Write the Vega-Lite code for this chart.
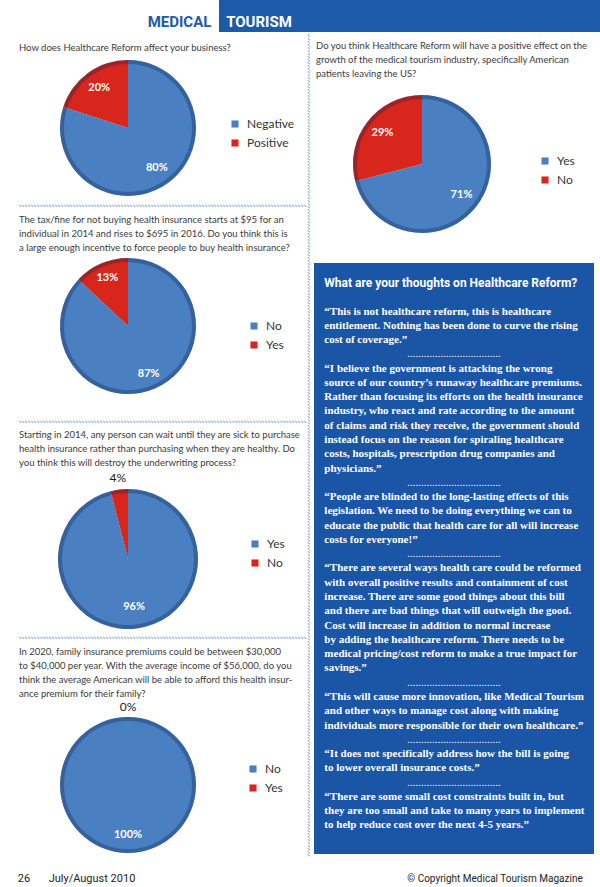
{
 "$schema": "https://vega.github.io/schema/vega-lite/v6.json",
 "padding": 0,
 "background": "white",
 "spacing": 1,
 "config": {
  "view": {"stroke": null},
  "title": {"font": "Lato", "fontSize": 9.5, "fontWeight": "normal", "color": "#3a3a3a", "anchor": "start", "frame": "group", "lineHeight": 14},
  "legend": {"labelFont": "Lato", "labelFontSize": 12, "labelColor": "#333333", "symbolType": "square", "symbolSize": 50, "symbolStrokeWidth": 0, "rowPadding": 7, "padding": 0, "labelOffset": 6},
  "arc": {"stroke": null}
 },
 "resolve": {"scale": {"color": "independent", "theta": "independent", "x": "independent", "y": "independent"}, "legend": {"color": "independent"}},
 "vconcat": [
  {
   "spacing": 0,
   "hconcat": [
    {"width": 145, "height": 32, "data": {"values": []}, "mark": "point"},
    {"width": 69, "height": 32, "data": {"values": [{"w": "MEDICAL"}]}, "mark": {"type": "text", "font": "Roboto", "fontSize": 15, "fontWeight": "bold", "color": "#1d5aa8", "dy": 6, "baseline": "middle", "align": "center"}, "encoding": {"text": {"field": "w"}}},
    {"width": 5, "height": 32, "data": {"values": []}, "mark": "point"},
    {"width": 80, "height": 32, "view": {"fill": "#1d5aa8"}, "data": {"values": [{"w": "TOURISM"}]}, "mark": {"type": "text", "font": "Roboto", "fontSize": 15, "fontWeight": "bold", "color": "white", "dy": 6, "baseline": "middle", "align": "center"}, "encoding": {"text": {"field": "w"}}},
    {"width": 301, "height": 32, "view": {"fill": "#1d5aa8"}, "data": {"values": []}, "mark": "point"}
   ]
  },
  {
   "spacing": 0,
   "resolve": {"scale": {"color": "independent", "theta": "independent", "x": "independent", "y": "independent"}, "legend": {"color": "independent"}},
   "hconcat": [
    {"width": 18, "height": 1, "data": {"values": []}, "mark": "point"},
    {
     "spacing": 7,
     "resolve": {"scale": {"color": "independent", "theta": "independent"}, "legend": {"color": "independent"}},
     "vconcat": [
      {"width": 10, "height": 1, "data": {"values": []}, "mark": "point"},
      {
       "width": 218, "height": 138,
       "title": {"text": ["How does Healthcare Reform affect your business?"], "offset": 7},
       "data": {"values": [{"answer": "Negative", "share": 0.8, "k": 1}, {"answer": "Positive", "share": 0.2, "k": 2}]},
       "encoding": {
        "theta": {"field": "share", "type": "quantitative", "stack": true},
        "order": {"field": "k", "type": "quantitative"},
        "color": {"field": "answer", "type": "nominal", "scale": {"domain": ["Negative", "Positive"], "range": ["#4a7fc1", "#d9261c"]}, "legend": {"title": null, "orient": "none", "legendX": 210, "legendY": 59}}
       },
       "layer": [
        {"mark": {"type": "arc", "outerRadius": 68}},
        {"mark": {"type": "arc", "outerRadius": 68, "innerRadius": 64, "opacity": 0.3}, "encoding": {"color": {"value": "#06214a"}}},
        {"mark": {"type": "text", "radius": 49, "font": "Lato", "fontSize": 11, "fontWeight": "bold"}, "encoding": {"color": {"value": "white"}, "text": {"field": "share", "type": "quantitative", "format": ".0%"}}}
       ]
      },
      {"width": 287, "height": 1, "data": {"values": []}, "mark": "point", "view": {"stroke": "#2f64b5", "strokeDash": [1, 2], "strokeWidth": 0.8}},
      {
       "width": 218, "height": 174,
       "title": {"text": ["The tax/fine for not buying health insurance starts at $95 for an", "individual in 2014 and rises to $695 in 2016. Do you think this is", "a large enough incentive to force people to buy health insurance?"], "offset": -13},
       "data": {"values": [{"answer": "No", "share": 0.87, "k": 1}, {"answer": "Yes", "share": 0.13, "k": 2}]},
       "encoding": {
        "theta": {"field": "share", "type": "quantitative", "stack": true},
        "order": {"field": "k", "type": "quantitative"},
        "color": {"field": "answer", "type": "nominal", "scale": {"domain": ["No", "Yes"], "range": ["#4a7fc1", "#d9261c"]}, "legend": {"title": null, "orient": "none", "legendX": 229, "legendY": 81}}
       },
       "layer": [
        {"mark": {"type": "arc", "outerRadius": 68}},
        {"mark": {"type": "arc", "outerRadius": 68, "innerRadius": 64, "opacity": 0.3}, "encoding": {"color": {"value": "#06214a"}}},
        {"mark": {"type": "text", "radius": 52, "font": "Lato", "fontSize": 11, "fontWeight": "bold"}, "encoding": {"color": {"value": "white"}, "text": {"field": "share", "type": "quantitative", "format": ".0%"}}}
       ]
      },
      {"width": 287, "height": 1, "data": {"values": []}, "mark": "point", "view": {"stroke": "#2f64b5", "strokeDash": [1, 2], "strokeWidth": 0.8}},
      {
       "width": 218, "height": 140,
       "title": {"text": ["Starting in 2014, any person can wait until they are sick to purchase", "health insurance rather than purchasing when they are healthy. Do", "you think this will destroy the underwriting process?"], "offset": 4},
       "data": {"values": [{"answer": "Yes", "share": 0.96, "k": 1}, {"answer": "No", "share": 0.04, "k": 2}]},
       "encoding": {
        "theta": {"field": "share", "type": "quantitative", "stack": true},
        "order": {"field": "k", "type": "quantitative"},
        "color": {"field": "answer", "type": "nominal", "scale": {"domain": ["Yes", "No"], "range": ["#4a7fc1", "#d9261c"]}, "legend": {"title": null, "orient": "none", "legendX": 230, "legendY": 49}}
       },
       "layer": [
        {"mark": {"type": "arc", "outerRadius": 70}},
        {"mark": {"type": "arc", "outerRadius": 70, "innerRadius": 66, "opacity": 0.3}, "encoding": {"color": {"value": "#06214a"}}},
        {"mark": {"type": "text", "font": "Lato", "fontWeight": "bold"}, "encoding": {"radius": {"value": {"expr": "datum.share >= 0.05 ? 48 : 0"}}, "color": {"value": "white"}, "size": {"condition": {"test": "datum.share >= 0.05", "value": 11}, "value": 0}, "text": {"condition": {"test": "datum.share >= 0.05", "field": "share", "type": "quantitative", "format": ".0%"}, "value": ""}}},
        {"mark": {"type": "text", "font": "Lato"}, "encoding": {"radius": {"value": {"expr": "datum.share < 0.05 ? 82 : 0"}}, "color": {"value": "#222222"}, "size": {"condition": {"test": "datum.share < 0.05", "value": 12}, "value": 0}, "text": {"condition": {"test": "datum.share < 0.05", "field": "share", "type": "quantitative", "format": ".0%"}, "value": ""}}}
       ]
      },
      {"width": 287, "height": 1, "data": {"values": []}, "mark": "point", "view": {"stroke": "#2f64b5", "strokeDash": [1, 2], "strokeWidth": 0.8}},
      {
       "width": 218, "height": 150,
       "title": {"text": ["In 2020, family insurance premiums could be between $30,000", "to $40,000 per year. With the average income of $56,000, do you", "think the average American will be able to afford this health insur-", "ance premium for their family?"], "offset": 3},
       "data": {"values": [{"answer": "No", "share": 1.0, "k": 1}, {"answer": "Yes", "share": 0.0, "k": 2}]},
       "encoding": {
        "theta": {"field": "share", "type": "quantitative", "stack": true},
        "order": {"field": "k", "type": "quantitative"},
        "color": {"field": "answer", "type": "nominal", "scale": {"domain": ["No", "Yes"], "range": ["#4a7fc1", "#d9261c"]}, "legend": {"title": null, "orient": "none", "legendX": 228, "legendY": 53}}
       },
       "layer": [
        {"mark": {"type": "arc", "outerRadius": 68}},
        {"mark": {"type": "arc", "outerRadius": 68, "innerRadius": 64, "opacity": 0.3}, "encoding": {"color": {"value": "#06214a"}}},
        {"mark": {"type": "text", "font": "Lato", "fontWeight": "bold"}, "encoding": {"radius": {"value": {"expr": "datum.share >= 0.05 ? 50 : 0"}}, "color": {"value": "white"}, "size": {"condition": {"test": "datum.share >= 0.05", "value": 11}, "value": 0}, "text": {"condition": {"test": "datum.share >= 0.05", "field": "share", "type": "quantitative", "format": ".0%"}, "value": ""}}},
        {"mark": {"type": "text", "font": "Lato"}, "encoding": {"radius": {"value": {"expr": "datum.share < 0.05 ? 78 : 0"}}, "color": {"value": "#222222"}, "size": {"condition": {"test": "datum.share < 0.05", "value": 12}, "value": 0}, "text": {"condition": {"test": "datum.share < 0.05", "field": "share", "type": "quantitative", "format": ".0%"}, "value": ""}}}
       ]
      }
     ]
    },
    {"width": 1, "height": 822, "data": {"values": []}, "mark": "point", "view": {"stroke": "#2f64b5", "strokeDash": [1, 2], "strokeWidth": 0.8}},
    {"width": 4, "height": 1, "data": {"values": []}, "mark": "point"},
    {
     "spacing": 5,
     "resolve": {"scale": {"color": "independent", "theta": "independent", "x": "independent", "y": "independent"}, "legend": {"color": "independent"}},
     "vconcat": [
      {"width": 10, "height": 1, "data": {"values": []}, "mark": "point"},
      {
       "width": 216, "height": 140,
       "title": {"text": ["Do you think Healthcare Reform will have a positive effect on the", "growth of the medical tourism industry, specifically American", "patients leaving the US?"], "offset": 16, "dx": 2},
       "data": {"values": [{"answer": "Yes", "share": 0.71, "k": 1}, {"answer": "No", "share": 0.29, "k": 2}]},
       "encoding": {
        "theta": {"field": "share", "type": "quantitative", "stack": true},
        "order": {"field": "k", "type": "quantitative"},
        "color": {"field": "answer", "type": "nominal", "scale": {"domain": ["Yes", "No"], "range": ["#4a7fc1", "#d9261c"]}, "legend": {"title": null, "orient": "none", "legendX": 225, "legendY": 61}}
       },
       "layer": [
        {"mark": {"type": "arc", "outerRadius": 69}},
        {"mark": {"type": "arc", "outerRadius": 69, "innerRadius": 65, "opacity": 0.3}, "encoding": {"color": {"value": "#06214a"}}},
        {"mark": {"type": "text", "radius": 50, "font": "Lato", "fontSize": 11, "fontWeight": "bold"}, "encoding": {"color": {"value": "white"}, "text": {"field": "share", "type": "quantitative", "format": ".0%"}}}
       ]
      },
      {"width": 10, "height": 19, "data": {"values": []}, "mark": "point"},
      {
       "width": 280, "height": 591,
       "view": {"fill": "#1b56a6", "stroke": null},
       "data": {"values": [
        {"line": 0, "kind": "head", "text": "What are your thoughts on Healthcare Reform?"},
        {"line": 2, "kind": "quote", "text": "“This is not healthcare reform, this is healthcare"},
        {"line": 3, "kind": "quote", "text": "entitlement. Nothing has been done to curve the rising"},
        {"line": 4, "kind": "quote", "text": "cost of coverage.”"},
        {"line": 5, "kind": "sep", "text": ".................................."},
        {"line": 6, "kind": "quote", "text": "“I believe the government is attacking the wrong"},
        {"line": 7, "kind": "quote", "text": "source of our country’s runaway healthcare premiums."},
        {"line": 8, "kind": "quote", "text": "Rather than focusing its efforts on the health insurance"},
        {"line": 9, "kind": "quote", "text": "industry, who react and rate according to the amount"},
        {"line": 10, "kind": "quote", "text": "of claims and risk they receive, the government should"},
        {"line": 11, "kind": "quote", "text": "instead focus on the reason for spiraling healthcare"},
        {"line": 12, "kind": "quote", "text": "costs, hospitals, prescription drug companies and"},
        {"line": 13, "kind": "quote", "text": "physicians.”"},
        {"line": 14, "kind": "sep", "text": ".................................."},
        {"line": 15, "kind": "quote", "text": "“People are blinded to the long-lasting effects of this"},
        {"line": 16, "kind": "quote", "text": "legislation. We need to be doing everything we can to"},
        {"line": 17, "kind": "quote", "text": "educate the public that health care for all will increase"},
        {"line": 18, "kind": "quote", "text": "costs for everyone!”"},
        {"line": 19, "kind": "sep", "text": ".................................."},
        {"line": 20, "kind": "quote", "text": "“There are several ways health care could be reformed"},
        {"line": 21, "kind": "quote", "text": "with overall positive results and containment of cost"},
        {"line": 22, "kind": "quote", "text": "increase. There are some good things about this bill"},
        {"line": 23, "kind": "quote", "text": "and there are bad things that will outweigh the good."},
        {"line": 24, "kind": "quote", "text": "Cost will increase in addition to normal increase"},
        {"line": 25, "kind": "quote", "text": "by adding the healthcare reform. There needs to be"},
        {"line": 26, "kind": "quote", "text": "medical pricing/cost reform to make a true impact for"},
        {"line": 27, "kind": "quote", "text": "savings.”"},
        {"line": 28, "kind": "sep", "text": ".................................."},
        {"line": 29, "kind": "quote", "text": "“This will cause more innovation, like Medical Tourism"},
        {"line": 30, "kind": "quote", "text": "and other ways to manage cost along with making"},
        {"line": 31, "kind": "quote", "text": "individuals more responsible for their own healthcare.”"},
        {"line": 32, "kind": "sep", "text": ".................................."},
        {"line": 33, "kind": "quote", "text": "“It does not specifically address how the bill is going"},
        {"line": 34, "kind": "quote", "text": "to lower overall insurance costs.”"},
        {"line": 35, "kind": "sep", "text": ".................................."},
        {"line": 36, "kind": "quote", "text": "“There are some small cost constraints built in, but"},
        {"line": 37, "kind": "quote", "text": "they are too small and take to many years to implement"},
        {"line": 38, "kind": "quote", "text": "to help reduce cost over the next 4-5 years.”"}
       ]},
       "encoding": {
        "y": {"field": "line", "type": "quantitative", "scale": {"domain": [-1.4, 40], "reverse": true, "nice": false, "zero": false}, "axis": null}
       },
       "layer": [
        {"transform": [{"filter": "datum.kind == 'head'"}],
         "mark": {"type": "text", "align": "left", "baseline": "middle", "font": "Roboto", "fontSize": 12, "fontWeight": "bold", "color": "white"},
         "encoding": {"x": {"datum": "col", "type": "nominal", "bandPosition": 0, "scale": {"type": "band", "paddingInner": 0, "paddingOuter": 0.04}, "axis": null}, "text": {"field": "text"}}},
        {"transform": [{"filter": "datum.kind == 'quote'"}],
         "mark": {"type": "text", "align": "left", "baseline": "middle", "font": "Liberation Serif", "fontSize": 11, "fontWeight": "bold", "color": "white"},
         "encoding": {"x": {"datum": "col", "type": "nominal", "bandPosition": 0, "scale": {"type": "band", "paddingInner": 0, "paddingOuter": 0.04}, "axis": null}, "text": {"field": "text"}}},
        {"transform": [{"filter": "datum.kind == 'sep'"}],
         "mark": {"type": "text", "align": "center", "baseline": "middle", "font": "Liberation Serif", "fontSize": 11, "color": "white"},
         "encoding": {"x": {"datum": "col", "type": "nominal", "bandPosition": 0.5, "scale": {"type": "band", "paddingInner": 0, "paddingOuter": 0.04}, "axis": null}, "text": {"field": "text"}}}
       ]
      }
     ]
    }
   ]
  },
  {"width": 10, "height": 9, "data": {"values": []}, "mark": "point"},
  {
   "spacing": 0,
   "vconcat": [
    {
     "spacing": 0,
     "hconcat": [
      {"width": 48, "height": 16, "data": {"values": [{"w": "26"}]}, "mark": {"type": "text", "font": "Roboto", "fontSize": 11, "color": "#222222", "baseline": "middle", "align": "center"}, "encoding": {"text": {"field": "w"}}},
      {"width": 88, "height": 16, "data": {"values": [{"w": "July/August 2010"}]}, "mark": {"type": "text", "font": "Roboto", "fontSize": 11, "color": "#222222", "baseline": "middle", "align": "center"}, "encoding": {"text": {"field": "w"}}},
      {"width": 264, "height": 16, "data": {"values": []}, "mark": "point"},
      {"width": 190, "height": 16, "data": {"values": [{"w": "© Copyright Medical Tourism Magazine"}]}, "mark": {"type": "text", "font": "Roboto", "fontSize": 10, "color": "#222222", "baseline": "middle", "align": "center"}, "encoding": {"text": {"field": "w"}}},
      {"width": 10, "height": 16, "data": {"values": []}, "mark": "point"}
     ]
    },
    {"width": 600, "height": 3, "view": {"fill": "#1a6aa8"}, "data": {"values": []}, "mark": "point"}
   ]
  }
 ]
}
